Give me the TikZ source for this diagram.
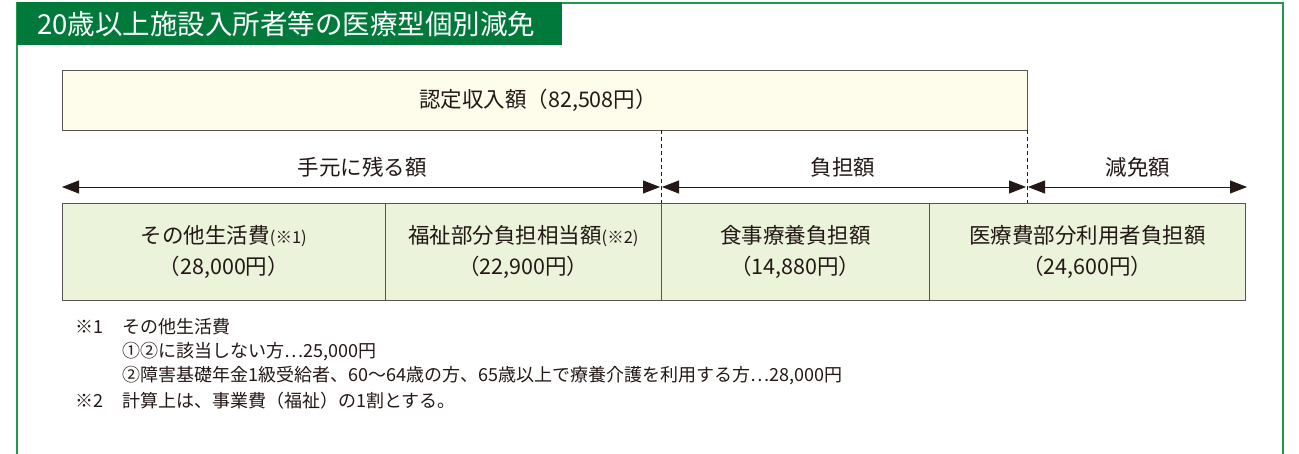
\documentclass[tikz,border=0pt]{standalone}
\usepackage{fontspec}
\setmainfont{Noto Sans CJK JP}
\usetikzlibrary{arrows.meta}
\definecolor{hdrgreen}{HTML}{00793B}
\definecolor{framegreen}{HTML}{1F9A4A}
\definecolor{cream}{HTML}{FEFCEB}
\definecolor{cellgreen}{HTML}{EBF3DA}
\definecolor{inkdark}{HTML}{231815}
\definecolor{boxline}{HTML}{5A5450}
\tikzset{
  frame/.style={draw=framegreen, line width=1.6pt},
  cell/.style={draw=boxline, line width=0.8pt, fill=cellgreen},
  incomebox/.style={draw=boxline, line width=0.8pt, fill=cream},
  celltext/.style={font=\fontsize{21.5}{31}\selectfont, text=inkdark, align=center},
  dim/.style={draw=inkdark, line width=0.8pt, {Triangle[length=17pt,width=13pt]}-{Triangle[length=17pt,width=13pt]}},
  dimlabel/.style={font=\fontsize{21.5}{23}\selectfont, text=inkdark},
  guide/.style={draw=inkdark, line width=0.6pt, dash pattern=on 4pt off 3pt},
  note/.style={font=\fontsize{18}{20}\selectfont, text=inkdark, anchor=west, inner sep=0pt}
}
\begin{document}
\begin{tikzpicture}[x=1pt,y=-1pt]
\useasboundingbox (0,0) rectangle (1299,454);
% frame
\draw[frame] (17,454) -- (17,3) -- (1283,3) -- (1283,454);
\node[fill=hdrgreen, minimum width=545pt, minimum height=43pt, anchor=north west, inner sep=0pt] (hdr) at (17,2) {};
\node[anchor=west, text=white, font=\fontsize{27.5}{30}\selectfont, inner sep=0pt] (hdrtext) at (37,24) {20歳以上施設入所者等の医療型個別減免};
% income box
\node[incomebox, anchor=north west, minimum width=965pt, minimum height=60pt, inner sep=0pt] (inc) at (62,70) {};
\node[dimlabel] (inctext) at (538,100) {認定収入額（82,508円）};
% guides
\coordinate (g1t) at (661,130);
\coordinate (g1b) at (661,203);
\coordinate (g2t) at (1027,130);
\coordinate (g2b) at (1027,203);
\draw[guide] (g1t) -- (g1b);
\draw[guide] (g2t) -- (g2b);
% dimension arrows
\coordinate (a0) at (62,187);
\coordinate (a1l) at (660,187);
\coordinate (a1r) at (662,187);
\coordinate (a2l) at (1026,187);
\coordinate (a2r) at (1028,187);
\coordinate (a3) at (1247,187);
\draw[dim] (a0) -- (a1l);
\draw[dim] (a1r) -- (a2l);
\draw[dim] (a2r) -- (a3);
\node[dimlabel] (l1) at (362,167) {手元に残る額};
\node[dimlabel] (l2) at (843,167) {負担額};
\node[dimlabel] (l3) at (1138,167) {減免額};
% cells
\node[cell, anchor=north west, minimum width=323pt, minimum height=97pt, inner sep=0pt] (c1) at (62,203) {};
\node[cell, anchor=north west, minimum width=276pt, minimum height=97pt, inner sep=0pt] (c2) at (385,203) {};
\node[cell, anchor=north west, minimum width=268pt, minimum height=97pt, inner sep=0pt] (c3) at (661,203) {};
\node[cell, anchor=north west, minimum width=316pt, minimum height=97pt, inner sep=0pt] (c4) at (929,203) {};
\node[celltext] (t1) at (c1.center) {その他生活費{\fontsize{16.5}{18}\selectfont(※1)}\\（28,000円）};
\node[celltext] (t2) at (c2.center) {福祉部分負担相当額{\fontsize{16.5}{18}\selectfont(※2)}\\（22,900円）};
\node[celltext] (t3) at (c3.center) {食事療養負担額\\（14,880円）};
\node[celltext] (t4) at (c4.center) {医療費部分利用者負担額\\（24,600円）};
% notes
\node[note] (n1a) at (75,327) {※1};
\node[note] (n1b) at (122,327) {その他生活費};
\node[note] (n2) at (122,352) {①②に該当しない方⋯25,000円};
\node[note] (n3) at (122,376) {②障害基礎年金1級受給者、60〜64歳の方、65歳以上で療養介護を利用する方⋯28,000円};
\node[note] (n4a) at (75,401) {※2};
\node[note] (n4b) at (122,401) {計算上は、事業費（福祉）の1割とする。};
\end{tikzpicture}
\end{document}
